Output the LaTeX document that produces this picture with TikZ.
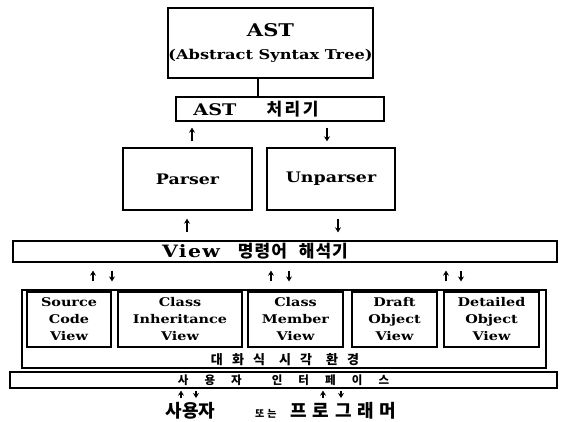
\documentclass[tikz,border=0pt]{standalone}
\usepackage{fontspec}
\setmainfont{DejaVu Serif}
\newfontfamily\lat[FakeStretch=1.2]{DejaVu Serif}
\newfontfamily\kr{Noto Sans CJK KR}
\usetikzlibrary{arrows.meta,positioning,calc}

\begin{document}
\begin{tikzpicture}[
  x=1pt, y=-1pt,
  font=\lat\bfseries\fontsize{12}{17}\selectfont,
  box/.style={draw, line width=1.4pt, inner sep=0pt, align=center},
  block/.style={box, minimum height=62pt, font=\lat\bfseries\fontsize{14.5}{17}\selectfont},
  vbox/.style={box, line width=1.8pt, minimum height=55pt},
  strip/.style={box, line width=1.3pt},
  uarr/.style={line width=1.2pt, -{Stealth[length=5pt,width=6pt]}},
  karr/.style={uarr, shorten >=8pt, shorten <=8pt}
]
\useasboundingbox (0,0) rectangle (564,422);

% ----- AST and its processor
\node[box, minimum width=205pt, minimum height=70pt,
      font=\lat\bfseries\fontsize{17.5}{23}\selectfont] at (270.5,43) (ast)
  {AST\\{\fontsize{13.5}{23}\selectfont (Abstract Syntax Tree)}};
\node[strip, minimum width=208pt, minimum height=24pt] at (280,109) (proc)
  {\fontsize{16}{16}\selectfont AST\hspace{30pt}{\kr\bfseries\fontsize{17}{17}\selectfont\addfontfeature{LetterSpace=15}처리기}\hspace{48pt}};
\coordinate (cA) at (258,0);
\draw[line width=1.4pt] (ast.south -| cA) -- (proc.north -| cA);

% ----- Parser / Unparser
\node[block, minimum width=129pt] at (187.5,179) (parser) {Parser};
\node[block, minimum width=128pt] at (331,179) (unparser) {Unparser};

\coordinate (p1) at (192,0);
\coordinate (p2) at (327,0);
\draw[karr, shorten >=6pt, shorten <=6pt] (parser.north -| p1) -- (proc.south -| p1);
\draw[karr, shorten >=6pt, shorten <=6pt] (proc.south -| p2) -- (unparser.north -| p2);

% ----- View command interpreter
\node[strip, minimum width=544pt, minimum height=21pt] at (285,251.5) (view)
  {\fontsize{17}{17}\selectfont\addfontfeature{LetterSpace=8}View\hspace{18pt}{\kr\bfseries\addfontfeature{LetterSpace=6}명령어\hspace{12pt}해석기}\hspace{60pt}};

\coordinate (q1) at (187,0);
\coordinate (q2) at (338,0);
\draw[karr] (view.north -| q1) -- (parser.south -| q1);
\draw[karr] (unparser.south -| q2) -- (view.north -| q2);

% ----- Interactive visual environment
\node[box, line width=1.1pt, minimum width=524pt, minimum height=78pt] at (284,329) (env) {};
\node[vbox, minimum width=84pt]  at (69,319.5)    (scv)  {Source\\Code\\View};
\node[vbox, minimum width=124pt] at (180,319.5)   (civ)  {Class\\Inheritance\\View};
\node[vbox, minimum width=95pt]  at (295.5,319.5) (cmv)  {Class\\Member\\View};
\node[vbox, minimum width=85pt]  at (394.5,319.5) (dov)  {Draft\\Object\\View};
\node[vbox, minimum width=95pt]  at (491.5,319.5) (detv) {Detailed\\Object\\View};
\node at (285,360) (envlbl)
  {\kr\bfseries\fontsize{13}{14}\selectfont\addfontfeature{LetterSpace=70}대화식\hspace{14pt}시각\hspace{14pt}환경};

\foreach \u/\d in {93/112, 271/289, 446/461} {
  \coordinate (u) at (\u,0);
  \coordinate (d) at (\d,0);
  \draw[karr] (env.north -| u) -- (view.south -| u);
  \draw[karr] (view.south -| d) -- (env.north -| d);
}

% ----- User interface and user
\node[strip, minimum width=547pt, minimum height=16pt] at (283.5,380) (ui)
  {\kr\bfseries\fontsize{11.5}{12}\selectfont\addfontfeature{LetterSpace=140}사용자\hspace{30pt}인터페이스};
\node at (281,411) (user)
  {\kr\bfseries\fontsize{18}{18}\selectfont 사용자\hspace{40pt}{\fontsize{10}{10}\selectfont\addfontfeature{LetterSpace=30}또는}\hspace{14pt}{\addfontfeature{LetterSpace=32}프로그래머}};

\foreach \u/\d in {181/196, 323/341} {
  \coordinate (u) at (\u,0);
  \coordinate (d) at (\d,0);
  \draw[uarr, shorten <=1pt, shorten >=2pt] (user.north -| u) -- (ui.south -| u);
  \draw[uarr, shorten <=2pt, shorten >=1pt] (ui.south -| d) -- (user.north -| d);
}

\end{tikzpicture}
\end{document}
